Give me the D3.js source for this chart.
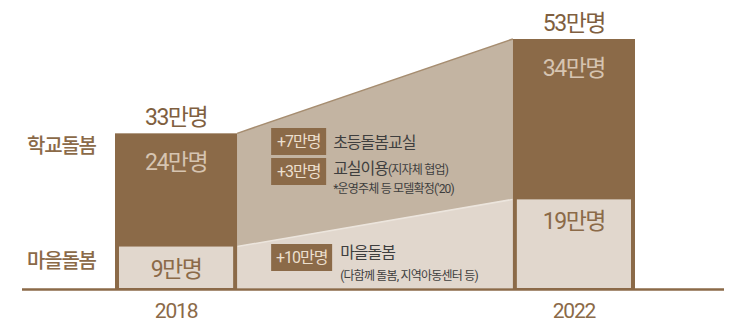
<!DOCTYPE html>
<html>
<head>
<meta charset="utf-8">
<script src="https://cdn.jsdelivr.net/npm/d3@7"></script>
<style>
    body { margin: 0; background: #fff; }
</style>
</head>
<body>
<div id="chart"></div>
<script>
// values in 만명
const years = ["2018", "2022"];
const seriesNames = ["학교돌봄", "마을돌봄"];
const schoolCare = [24, 34];
const villageCare = [9, 19];
const unit = "만명";

const schoolNotes = [
    { badge: "+7만명", text: "초등돌봄교실", sub: "" },
    { badge: "+3만명", text: "교실이용", sub: "(지자체 협업)" }
];
const schoolFootnote = "*운영주체 등 모델확정('20)";
const villageNotes = [
    { badge: "+10만명", text: "마을돌봄", sub: "(다함께 돌봄, 지역아동센터 등)" }
];

const brown = "#8b6a48",
    midFill = "#c3b4a2",
    lightFill = "#e1d7cd",
    valueLight = "#d6c4b1",
    noteText = "#3e3e3e",
    fontStack = "Roboto, 'Noto Sans CJK KR', 'Noto Sans CJK SC', sans-serif";

var width = 738, height = 323, baseY = 289;

var svg = d3.select("#chart")
    .append("svg")
    .attr("width", width)
    .attr("height", height)
    .style("font-family", fontStack);

var totals = years.map((d, i) => schoolCare[i] + villageCare[i]);

var x = d3.scaleBand()
    .domain(years)
    .range([115, 635])
    .paddingInner(0.693)
    .paddingOuter(0);

var y = d3.scaleLinear()
    .domain([0, d3.max(totals)])
    .range([baseY, 39]);

var bw = x.bandwidth();
var leftEdge = x(years[0]) + bw,
    rightEdge = x(years[1]);

// middle trapezoids (growth between years)
svg.append("polygon")
    .attr("points", [
        [leftEdge, y(totals[0])], [rightEdge, y(totals[1])],
        [rightEdge, y(villageCare[1])], [leftEdge, y(villageCare[0])]
    ].join(" "))
    .attr("fill", midFill);

svg.append("polygon")
    .attr("points", [
        [leftEdge, y(villageCare[0])], [rightEdge, y(villageCare[1])],
        [rightEdge, baseY - 1], [leftEdge, baseY - 1]
    ].join(" "))
    .attr("fill", lightFill);

svg.append("line")
    .attr("x1", leftEdge).attr("y1", y(totals[0]))
    .attr("x2", rightEdge).attr("y2", y(totals[1]))
    .attr("stroke", "#a68d70")
    .attr("stroke-width", 1.5);

svg.append("line")
    .attr("x1", leftEdge).attr("y1", y(villageCare[0]))
    .attr("x2", rightEdge).attr("y2", y(villageCare[1]))
    .attr("stroke", "#ece5dd")
    .attr("stroke-width", 1.5);

// bars
svg.selectAll(".bar")
    .data(years)
    .enter()
    .append("rect")
    .attr("class", "bar")
    .attr("x", d => x(d))
    .attr("y", (d, i) => y(totals[i]))
    .attr("width", bw)
    .attr("height", (d, i) => baseY - y(totals[i]))
    .attr("fill", brown);

svg.selectAll(".village")
    .data(years)
    .enter()
    .append("rect")
    .attr("class", "village")
    .attr("x", d => x(d) + 4)
    .attr("y", (d, i) => y(villageCare[i]))
    .attr("width", bw - 8)
    .attr("height", (d, i) => baseY - 1 - y(villageCare[i]))
    .attr("fill", lightFill);

// baseline
svg.append("line")
    .attr("x1", 22).attr("x2", 724)
    .attr("y1", baseY + 0.5).attr("y2", baseY + 0.5)
    .attr("stroke", brown)
    .attr("stroke-width", 2.6);

// year labels
var xAxis = svg.append("g")
    .attr("transform", "translate(0," + baseY + ")")
    .call(d3.axisBottom(x).tickSize(0).tickPadding(14));
xAxis.select(".domain").remove();
xAxis.attr("font-family", null).attr("font-size", null);
xAxis.selectAll("text")
    .attr("fill", brown)
    .style("font-family", fontStack)
    .style("font-size", "21px")
    .style("letter-spacing", "-1.2px");

function valueText(cls, data, yFn, color) {
    svg.selectAll("." + cls)
        .data(data)
        .enter()
        .append("text")
        .attr("class", cls)
        .attr("x", (d, i) => x(years[i]) + bw / 2)
        .attr("y", yFn)
        .attr("text-anchor", "middle")
        .attr("fill", color)
        .style("font-size", "23px")
        .style("letter-spacing", "-1.5px")
        .text(d => d + unit);
}

valueText("total", totals, (d, i) => y(totals[i]) - 8, "#7f5f40");
valueText("schoolVal", schoolCare, (d, i) => y(totals[i]) + 37, valueLight);
valueText("villageVal", villageCare, (d, i) => y(villageCare[i]) + 30, brown);

// series labels at the left
svg.selectAll(".seriesLabel")
    .data(seriesNames)
    .enter()
    .append("text")
    .attr("class", "seriesLabel")
    .attr("x", 27)
    .attr("y", (d, i) => i == 0 ? y(totals[0]) + 12 : y(villageCare[0]) + 14)
    .attr("dy", "0.36em")
    .attr("fill", brown)
    .style("font-size", "20px")
    .style("font-weight", 500)
    .style("letter-spacing", "-1.2px")
    .text(d => d);

// annotations in the middle
var ax = leftEdge + 34;

function badge(label, bx, by, bwid) {
    svg.append("rect")
        .attr("x", bx).attr("y", by)
        .attr("width", bwid).attr("height", 27)
        .attr("fill", brown);
    svg.append("text")
        .attr("x", bx + bwid / 2)
        .attr("y", by + 13.5)
        .attr("dy", "0.36em")
        .attr("text-anchor", "middle")
        .attr("fill", "#ecdfcd")
        .style("font-size", "16px")
        .style("letter-spacing", "-1px")
        .text(label);
}

schoolNotes.forEach((n, i) => {
    let by = 128 + i * 30;
    badge(n.badge, ax, by, 55);
    let t = svg.append("text")
        .attr("x", ax + 62)
        .attr("y", i == 0 ? by + 14 : by + 10)
        .attr("dy", "0.36em")
        .attr("fill", noteText)
        .style("font-size", "16px")
        .style("letter-spacing", "-1px")
        .text(n.text);
    if (n.sub) {
        t.append("tspan")
            .style("font-size", "12px")
            .style("letter-spacing", "-0.8px")
            .text(n.sub);
    }
});

svg.append("text")
    .attr("x", ax + 62)
    .attr("y", 189)
    .attr("dy", "0.36em")
    .attr("fill", noteText)
    .style("font-size", "12px")
    .style("letter-spacing", "-0.8px")
    .text(schoolFootnote);

villageNotes.forEach(n => {
    let by = 244;
    badge(n.badge, ax, by, 61);
    svg.append("text")
        .attr("x", ax + 69)
        .attr("y", by + 8)
        .attr("dy", "0.36em")
        .attr("fill", noteText)
        .style("font-size", "16px")
        .style("letter-spacing", "-1px")
        .text(n.text);
    svg.append("text")
        .attr("x", ax + 69)
        .attr("y", by + 32)
        .attr("dy", "0.36em")
        .attr("fill", noteText)
        .style("font-size", "12px")
        .style("letter-spacing", "-0.8px")
        .text(n.sub);
});
</script>
</body>
</html>
